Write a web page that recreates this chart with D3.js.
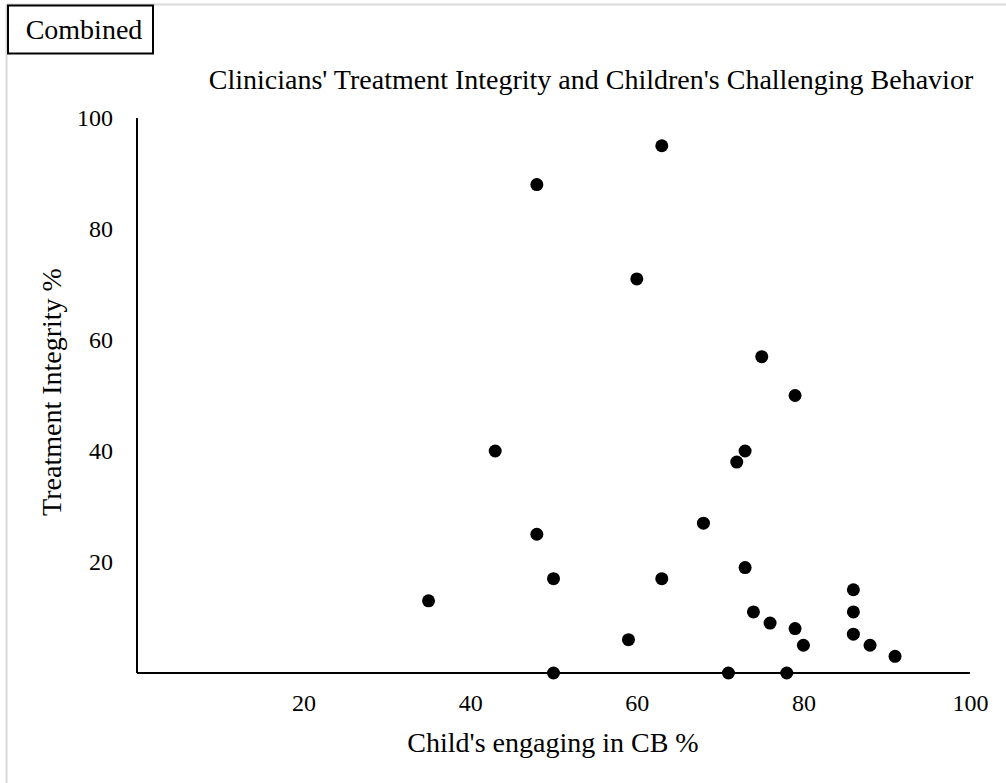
<!DOCTYPE html>
<html><head><meta charset="utf-8">
<script src="https://cdn.jsdelivr.net/npm/d3@7"></script>
<style>body{margin:0;background:#fff;} svg{display:block;}</style>
</head><body>
<script>
const xValues = [63, 48, 60, 75, 79, 43, 73, 72, 68, 48, 73, 50, 63, 35, 86, 86, 74, 76, 79, 86, 59, 80, 88, 91, 50, 71, 78];
const yValues = [95, 88, 71, 57, 50, 40, 40, 38, 27, 25, 19, 17, 17, 13, 15, 11, 11, 9, 8, 7, 6, 5, 5, 3, 0, 0, 0];
const xTicks = [20, 40, 60, 80, 100];
const yTicks = [20, 40, 60, 80, 100];
const title = "Clinicians' Treatment Integrity and Children's Challenging Behavior";
const xLabel = "Child's engaging in CB %";
const yLabel = "Treatment Integrity %";
const panelLabel = "Combined";

const W = 1006, H = 783;
const svg = d3.select("body").append("svg").attr("width", W).attr("height", H);
const font = "'Liberation Serif','Times New Roman',serif";

// frame
svg.append("line").attr("x1",6.5).attr("x2",W).attr("y1",4.5).attr("y2",4.5).attr("stroke","#d9d9d9").attr("stroke-width",2);
svg.append("line").attr("x1",6.5).attr("x2",6.5).attr("y1",4.5).attr("y2",H).attr("stroke","#d9d9d9").attr("stroke-width",2);

// panel label box
svg.append("rect").attr("x",8).attr("y",5.5).attr("width",145).attr("height",48).attr("fill","#fff").attr("stroke","#000").attr("stroke-width",2);
svg.append("text").attr("x",84).attr("y",39).attr("text-anchor","middle").attr("font-family",font).attr("font-size",28).text(panelLabel);

const x = d3.scaleLinear().domain([0,100]).range([137,970]);
const y = d3.scaleLinear().domain([0,100]).range([673,118]);

svg.append("text").attr("x",591).attr("y",89).attr("text-anchor","middle").attr("font-family",font).attr("font-size",28).text(title);

const xAxis = svg.append("g").attr("transform","translate(0,673)")
  .call(d3.axisBottom(x).tickValues(xTicks).tickSize(0).tickPadding(21));
const yAxis = svg.append("g").attr("transform","translate(137,0)")
  .call(d3.axisLeft(y).tickValues(yTicks).tickSize(0).tickPadding(24));
[xAxis,yAxis].forEach(g=>{
  g.select(".domain").attr("stroke","#000").attr("stroke-width",2);
  g.selectAll("text").attr("font-family",font).attr("font-size",24).attr("fill","#000");
});
xAxis.select(".domain").attr("d","M137,0H970");
yAxis.select(".domain").attr("d","M0,673V118");

svg.append("text").attr("x",553).attr("y",752).attr("text-anchor","middle").attr("font-family",font).attr("font-size",28).text(xLabel);
svg.append("text").attr("transform","translate(61,392) rotate(-90)").attr("text-anchor","middle").attr("font-family",font).attr("font-size",28).text(yLabel);

svg.append("g").selectAll("circle").data(xValues.map((v,i)=>[v,yValues[i]])).join("circle")
  .attr("cx",d=>x(d[0])).attr("cy",d=>y(d[1])).attr("r",6.5).attr("fill","#000");
</script>
</body></html>
